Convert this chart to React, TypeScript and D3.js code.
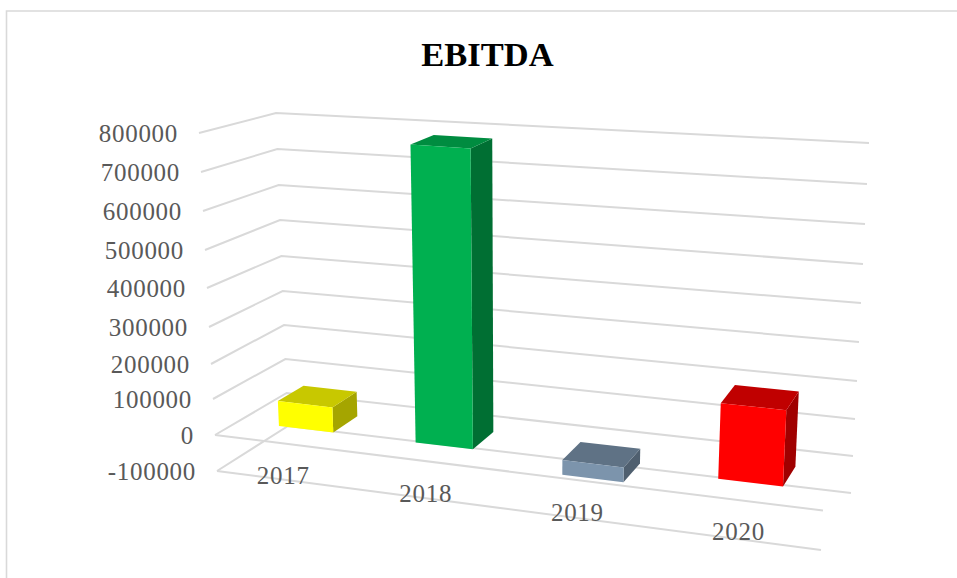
import React from "react";
import * as d3 from "d3";

const categories = ["2017", "2018", "2019", "2020"];
const ebitda = [70000, 785000, -40000, 200000];
const valueTicks = [-100000, 0, 100000, 200000, 300000, 400000, 500000, 600000, 700000, 800000];
const tickLabels = valueTicks.map(String);
const title = "EBITDA";

// Perspective frame: pixel rows of each tick on the four vertical box edges
const frontLeftY = [471, 435, 399, 364, 327, 288, 250, 211, 172, 133];
const backLeftY = [426, 393, 359, 325, 291, 256, 220, 185, 149, 113];
const backRightY = [493, 456, 419, 381, 342, 303, 264, 224, 184, 143];
const frontRightY = frontLeftY.map((y) => 550 - ((471 - y) * 39.5) / 36);

const edge = (ys: number[], x0: number, x1: number) => ({
  x: d3.scaleLinear().domain([-100000, 800000]).range([x0, x1]),
  y: d3.scaleLinear().domain(valueTicks).range(ys),
});
const FL = edge(frontLeftY, 217, 199);
const BL = edge(backLeftY, 288, 276);
const BR = edge(backRightY, 851, 869);
const FR = edge(frontRightY, 821, 839);

const band = d3.scaleBand<string>().domain(categories).range([0, 1]).paddingInner(0.6).paddingOuter(0.3);
// Foreshortening along the category axis
const warp = d3.scaleLinear().domain([0, 0.125, 0.375, 0.625, 0.875, 1]).range([0, 0.113, 0.344, 0.595, 0.86, 1]);
const zFront = 0.33;
const zBack = 0.7;
// Small horizontal nudge of the category labels against their band centres
const labelNudge = [-2, 1, 1, 2];

function project(t: number, v: number, z: number): [number, number] {
  const s = warp(t);
  const front = [d3.interpolateNumber(FL.x(v), FR.x(v))(s), d3.interpolateNumber(FL.y(v), FR.y(v))(s)];
  const back = [d3.interpolateNumber(BL.x(v), BR.x(v))(s), d3.interpolateNumber(BL.y(v), BR.y(v))(s)];
  return [front[0] + (back[0] - front[0]) * z, front[1] + (back[1] - front[1]) * z];
}

const barFill = ["#FFFF00", "#00B050", "#7C94AC", "#FF0000"];
const barTop = ["#C8C800", "#008C40", "#5F7285", "#C00000"];
const barSide = ["#A5A500", "#006F33", "#4F5F6F", "#A00000"];

const line = d3.line();
const closed = (pts: [number, number][]) => (line(pts) as string) + "Z";

export default function App() {
  return (
    <svg
      width={957}
      height={578}
      viewBox="0 0 957 578"
      style={{ position: "absolute", left: 0, top: 0, display: "block", background: "#fff" }}
    >
      <path d="M6.5,578V11H957" fill="none" stroke="#d9d9d9" strokeWidth={1.6} />
      <text
        x={487.5}
        y={66}
        textAnchor="middle"
        fontFamily="'Liberation Serif', serif"
        fontWeight={700}
        fontSize={34.5}
        fill="#000"
      >
        {title}
      </text>

      {valueTicks.map((v) => (
        <path
          key={v}
          d={line([
            [FL.x(v), FL.y(v)],
            [BL.x(v), BL.y(v)],
            [BR.x(v), BR.y(v)],
          ]) as string}
          fill="none"
          stroke="#d9d9d9"
          strokeWidth={2}
        />
      ))}
      {valueTicks.slice(0, 2).map((v) => (
        <path
          key={v}
          d={line([
            [FL.x(v), FL.y(v)],
            [FR.x(v), FR.y(v)],
          ]) as string}
          fill="none"
          stroke="#d9d9d9"
          strokeWidth={2}
        />
      ))}

      {categories.map((c, i) => {
        const t0 = band(c) as number;
        const t1 = t0 + band.bandwidth();
        const hi = Math.max(ebitda[i], 0);
        const lo = Math.min(ebitda[i], 0);
        const p = (t: number, v: number, z: number) => project(t, v, z);
        return (
          <g key={c}>
            <path d={closed([p(t1, lo, zFront), p(t1, lo, zBack), p(t1, hi, zBack), p(t1, hi, zFront)])} fill={barSide[i]} />
            <path d={closed([p(t0, hi, zFront), p(t1, hi, zFront), p(t1, hi, zBack), p(t0, hi, zBack)])} fill={barTop[i]} />
            <path d={closed([p(t0, lo, zFront), p(t1, lo, zFront), p(t1, hi, zFront), p(t0, hi, zFront)])} fill={barFill[i]} />
          </g>
        );
      })}

      {valueTicks.map((v, i) => (
        <text
          key={v}
          x={FL.x(v) - 21}
          y={FL.y(v) + 9}
          textAnchor="end"
          fontFamily="'Liberation Serif', serif"
          fontSize={25}
          letterSpacing={0.7}
          fill="#595959"
        >
          {tickLabels[i]}
        </text>
      ))}
      {categories.map((c, i) => {
        const t = (band(c) as number) + band.bandwidth() / 2;
        const [x, y] = project(t, -100000, 0);
        return (
          <text
            key={c}
            x={x + labelNudge[i]}
            y={y + 5 - 4 * t}
            textAnchor="middle"
            fontFamily="'Liberation Serif', serif"
            fontSize={25}
            letterSpacing={0.7}
            fill="#595959"
          >
            {c}
          </text>
        );
      })}
    </svg>
  );
}
